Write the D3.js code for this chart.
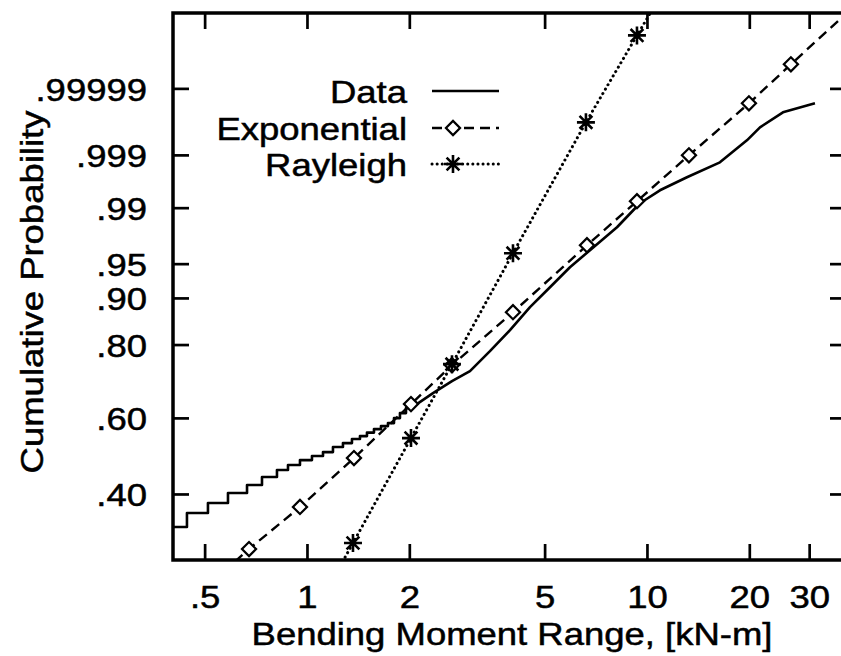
<!DOCTYPE html>
<html>
<head>
<meta charset="utf-8">
<script src="https://cdn.jsdelivr.net/npm/d3@7"></script>
<style>
  body { margin: 0; background: #fff; }
  svg { display: block; font-family: "Liberation Sans", Arial, Helvetica, sans-serif; }
  text { stroke: #000; stroke-width: 0.5px; }
</style>
</head>
<body>
<svg id="chart" width="841" height="656"></svg>
<script>
// values
const xTicks = [0.5, 1, 2, 5, 10, 20, 30];
const xTickLabels = [".5", "1", "2", "5", "10", "20", "30"];
const yTicks = [0.40, 0.60, 0.80, 0.90, 0.95, 0.99, 0.999, 0.99999];
const yTickLabels = [".40", ".60", ".80", ".90", ".95", ".99", ".999", ".99999"];

// measured data, low end is a staircase (discrete ranges)
const dataStairX = [0.400, 0.4436, 0.5114, 0.5857, 0.6663, 0.7374, 0.8161, 0.8794, 0.9537, 1.0344, 1.1147,
    1.1925, 1.2760, 1.3562, 1.4318, 1.5013, 1.5743, 1.6507, 1.7309, 1.8029, 1.8772, 1.9556, 2.0228];
const dataStairP = [0.3272, 0.3568, 0.3790, 0.4022, 0.4213, 0.4410, 0.4587, 0.4716, 0.4845, 0.4951, 0.5057,
    0.5192, 0.5300, 0.5410, 0.5492, 0.5589, 0.5686, 0.5770, 0.5854, 0.5994, 0.6135, 0.6276, 0.6276];
// ... and smooth above 2 kN-m
const dataX = [2.0228, 2.348, 2.670, 3.016, 3.453, 3.955, 4.529, 5.185, 5.936, 6.799, 8.164, 9.537,
    10.92, 13.11, 16.39, 19.68, 21.50, 25.12, 31.20];
const dataP = [0.6276, 0.6699, 0.7033, 0.7308, 0.7834, 0.8343, 0.8829, 0.9179, 0.9458, 0.96390, 0.98098, 0.99147,
    0.99482, 0.99702, 0.998532, 0.999559, 0.999804, 0.9999308, 0.9999651];

// fitted exponential (first and last point are the line's ends, no marker)
const expX = [0.614, 0.6754, 0.9537, 1.3747, 2.0228, 2.670, 4.036, 6.661, 9.346, 13.29, 19.95, 26.51, 37.2];
const expP = [0.262, 0.2844, 0.3701, 0.4898, 0.6389, 0.7469, 0.8730, 0.9683, 0.99208, 0.998978, 0.9999651,
    0.99999903, 0.99999999725];

// fitted rayleigh (same convention)
const rayX = [1.273, 1.3656, 2.0228, 2.670, 4.036, 6.615, 9.346, 10.344];
const rayP = [0.262, 0.2956, 0.5437, 0.7496, 0.9611, 0.9998594, 0.9999999691, 0.99999999921];

const legendLabels = ["Data", "Exponential", "Rayleigh"];

// layout
const LEFT = 173, RIGHT = 846, TOP = 13, BOTTOM = 560;
const TICK = 16;
const FONT = 32;
const STRETCH = 1.14;   // the lettering in the figure is a bit wide

const svg = d3.select('#chart');

// weibull probability paper: ln(-ln(1-p)) against ln x
const wb = p => Math.log(-Math.log(1 - p));

const x = d3.scaleLog()
    .domain([0.4036, 38.5])
    .range([LEFT, RIGHT]);

const y = d3.scaleLinear()
    .domain([wb(0.2648), wb(0.9999999988)])
    .range([BOTTOM, TOP]);

const line = d3.line()
    .x(d => x(d[0]))
    .y(d => y(wb(d[1])));

function styleAxis(g) {
    g.attr('font-size', FONT)
        .attr('font-family', null);
    g.select('.domain').remove();
    g.selectAll('.tick line')
        .attr('stroke', '#000')
        .attr('stroke-width', 2.7);
    g.selectAll('.tick text').attr('fill', '#000');
}

// axes
svg.append('g')
    .attr('transform', `translate(0,${BOTTOM})`)
    .call(d3.axisBottom(x)
        .tickValues(xTicks)
        .tickFormat((d, i) => xTickLabels[i])
        .tickSizeInner(-TICK)
        .tickSizeOuter(0)
        .tickPadding(25))
    .call(styleAxis)
    .selectAll('.tick text')
    .attr('transform', `scale(${STRETCH},1)`);

svg.append('g')
    .attr('transform', `translate(${LEFT},0)`)
    .call(d3.axisLeft(y)
        .tickValues(yTicks.map(wb))
        .tickFormat((d, i) => yTickLabels[i])
        .tickSizeInner(-TICK)
        .tickSizeOuter(0)
        .tickPadding(26))
    .call(styleAxis)
    .selectAll('.tick text')
    .attr('x', -26 / STRETCH)
    .attr('dy', '0.37em')
    .attr('transform', `scale(${STRETCH},1)`);

svg.append('g')
    .attr('transform', `translate(0,${TOP})`)
    .call(d3.axisTop(x)
        .tickValues(xTicks)
        .tickFormat('')
        .tickSizeInner(-TICK)
        .tickSizeOuter(0))
    .call(styleAxis);

svg.append('g')
    .attr('transform', `translate(${RIGHT},0)`)
    .call(d3.axisRight(y)
        .tickValues(yTicks.map(wb))
        .tickFormat('')
        .tickSizeInner(-TICK)
        .tickSizeOuter(0))
    .call(styleAxis);

svg.append('rect')
    .attr('x', LEFT)
    .attr('y', TOP)
    .attr('width', RIGHT - LEFT)
    .attr('height', BOTTOM - TOP)
    .attr('fill', 'none')
    .attr('stroke', '#000')
    .attr('stroke-width', 3.5);

// axis titles
function wideText(parent, tx, ty, str, anchor, angle) {
    return parent.append('text')
        .attr('transform', `translate(${tx},${ty}) rotate(${angle || 0}) scale(${STRETCH},1)`)
        .attr('text-anchor', anchor)
        .attr('font-size', FONT)
        .attr('fill', '#000')
        .text(str);
}

wideText(svg, 512, 645, "Bending Moment Range, [kN-m]", 'middle');
wideText(svg, 43, 292, "Cumulative Probability", 'middle', -90);

// plot area
svg.append('clipPath')
    .attr('id', 'plotclip')
    .append('rect')
    .attr('x', LEFT)
    .attr('y', TOP)
    .attr('width', RIGHT - LEFT)
    .attr('height', BOTTOM - TOP);

const plot = svg.append('g').attr('clip-path', 'url(#plotclip)');

const zip = (xs, ps) => xs.map((v, i) => [v, ps[i]]);

const series = [
    {dash: null, cap: 'butt', width: 2.6, marker: null},
    {dash: '10,6', cap: 'butt', width: 2.4, marker: 'diamond'},
    {dash: '0.1,5', cap: 'round', width: 3, marker: 'star'}
];

const diamondPath = d3.symbol(d3.symbolSquare, 100)();
const starPath = 'M-9,0H9M0,-9V9M-6.4,-6.4L6.4,6.4M-6.4,6.4L6.4,-6.4';

function drawMarker(g, kind, px, py) {
    if (kind === 'diamond') {
        g.append('path')
            .attr('d', diamondPath)
            .attr('transform', `translate(${px},${py}) rotate(45)`)
            .attr('fill', '#fff')
            .attr('stroke', '#000')
            .attr('stroke-width', 2.2);
    } else if (kind === 'star') {
        g.append('path')
            .attr('d', starPath)
            .attr('transform', `translate(${px},${py})`)
            .attr('fill', 'none')
            .attr('stroke', '#000')
            .attr('stroke-width', 2.6);
    }
}

function drawLine(g, pts, s, curve) {
    g.append('path')
        .datum(pts)
        .attr('d', line.curve(curve || d3.curveLinear))
        .attr('fill', 'none')
        .attr('stroke', '#000')
        .attr('stroke-width', s.width)
        .attr('stroke-linecap', s.cap)
        .attr('stroke-linejoin', 'round')
        .attr('stroke-dasharray', s.dash);
}

// data
drawLine(plot, zip(dataStairX, dataStairP), series[0], d3.curveStepAfter);
drawLine(plot, zip(dataX, dataP), series[0]);

// exponential
let expPts = zip(expX, expP);
drawLine(plot, expPts, series[1]);
expPts.slice(1, -1).forEach(d => drawMarker(plot, 'diamond', x(d[0]), y(wb(d[1]))));

// rayleigh
let rayPts = zip(rayX, rayP);
drawLine(plot, rayPts, series[2]);
rayPts.slice(1, -1).forEach(d => drawMarker(plot, 'star', x(d[0]), y(wb(d[1]))));

// legend
const legendBase = [103, 140, 176];
const legend = svg.append('g');
legendLabels.forEach((name, i) => {
    let by = legendBase[i];
    wideText(legend, 407, by, name, 'end');
    let ly = by - 12;
    legend.append('path')
        .attr('d', `M432,${ly}H499`)
        .attr('fill', 'none')
        .attr('stroke', '#000')
        .attr('stroke-width', series[i].width)
        .attr('stroke-linecap', series[i].cap)
        .attr('stroke-dasharray', series[i].dash);
    drawMarker(legend, series[i].marker, 453, ly);
});
</script>
</body>
</html>
